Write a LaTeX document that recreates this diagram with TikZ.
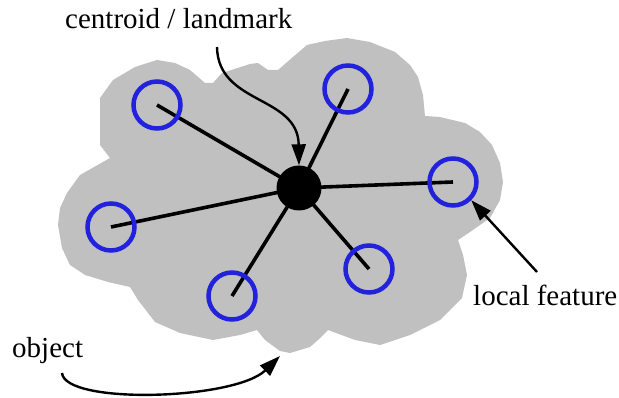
\documentclass[tikz,border=0pt]{standalone}
\usepackage{fontspec}
\newfontfamily\captionfont{Liberation Serif}
\usetikzlibrary{arrows.meta}
\definecolor{blobgray}{RGB}{192,192,192}
\definecolor{featblue}{RGB}{34,34,221}
\pgfdeclarelayer{blob}
\pgfdeclarelayer{spokes}
\pgfsetlayers{blob,spokes,main}
\begin{document}
\begin{tikzpicture}[x=1pt,y=-1pt,
  feature/.style={circle,draw=featblue,line width=4.5pt,minimum size=47pt,inner sep=0pt},
  hubdisc/.style={circle,fill=black,minimum size=45pt,inner sep=0pt},
  spoke/.style={line width=3.6pt},
  caption/.style={font=\captionfont\fontsize{29}{34}\selectfont,inner sep=0pt,anchor=base west},
  pointer/.style={line width=2.4pt,-{Triangle[length=21pt,width=14pt]}}]
\useasboundingbox (0,0) rectangle (619,398);

% object outline
\begin{pgfonlayer}{blob}
\fill[blobgray] (100,98) -- (113,80) -- (135,67) -- (157,60) -- (175,63) -- (190,70)
  -- (205,83) -- (213,83) -- (222,73) -- (250,64) -- (258,63) -- (268,70) -- (278,70)
  -- (293,57) -- (307,45) -- (325,41) -- (347,38) -- (370,42) -- (395,52) -- (410,65)
  -- (418,77) -- (423,95) -- (425,116) -- (440,117) -- (465,123) -- (480,132)
  -- (492,145) -- (500,163) -- (503,182) -- (500,200) -- (490,218) -- (470,232)
  -- (458,240) -- (463,255) -- (467,275) -- (462,298) -- (440,320) -- (410,335)
  -- (380,345) -- (355,340) -- (328,330) -- (318,340) -- (310,347) -- (290,353)
  -- (280,351) -- (265,340) -- (257,330) -- (240,335) -- (213,340) -- (180,333)
  -- (155,322) -- (138,300) -- (130,287) -- (108,282) -- (85,275) -- (70,265)
  -- (62,248) -- (58,225) -- (60,208) -- (67,193) -- (80,175) -- (110,158)
  -- (100,145) -- (100,120) -- cycle;
\end{pgfonlayer}

% centroid and local features
\node[hubdisc] (hub) at (299,188) {};
\node[feature] (f1) at (157,105) {};
\node[feature] (f2) at (348,89) {};
\node[feature] (f3) at (453,182) {};
\node[feature] (f4) at (111,227) {};
\node[feature] (f5) at (232,296) {};
\node[feature] (f6) at (369,269) {};

\begin{pgfonlayer}{spokes}
\foreach \f in {f1,f2,f3,f4,f5,f6}
  \draw[spoke] (\f.center) -- (hub.center);
\end{pgfonlayer}

% captions
\node[caption] (lmk) at (65,29) {centroid / landmark};
\node[caption] (obj) at (12,357) {object};
\node[caption] (loc) at (473,306) {local feature};

\coordinate (lmkstart) at (217,47);
\coordinate (objstart) at (62,373);
\coordinate (objtip) at (280,356);
\coordinate (locstart) at (537,272);

% pointers
\draw[pointer] (lmkstart) .. controls (218,105) and (298,95) .. (hub.north);
\draw[pointer] (objstart) .. controls (65,405) and (235,400) .. (objtip);
\draw[pointer] (locstart) -- (f3.south east);
\end{tikzpicture}
\end{document}
